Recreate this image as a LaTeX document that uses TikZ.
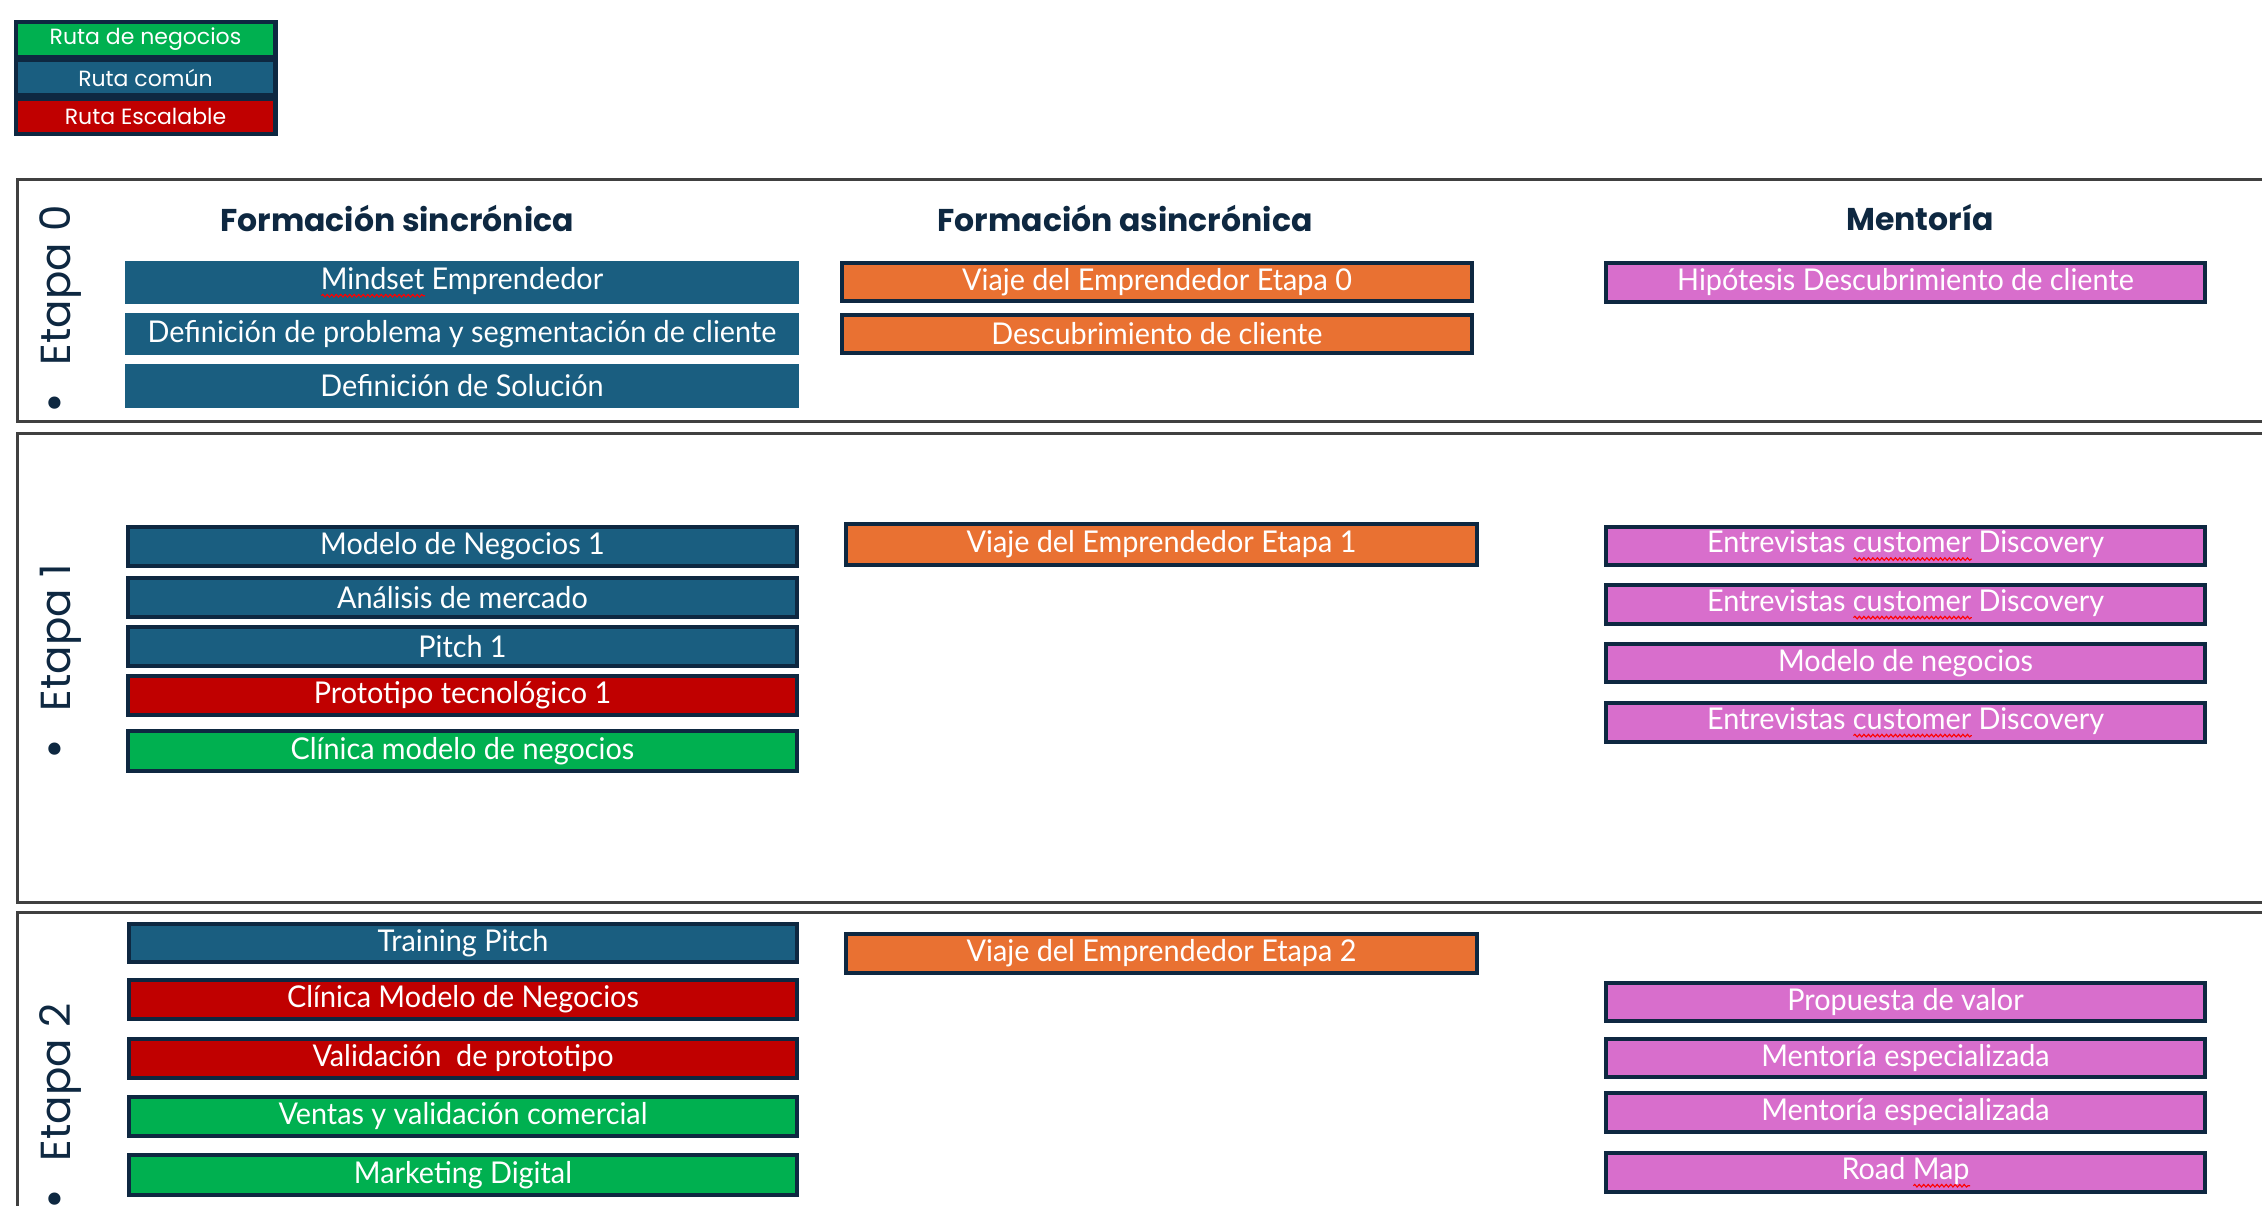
\documentclass[tikz,border=0pt]{standalone}
\usepackage{fontspec}
\setmainfont{Lato}
\newfontfamily\boxfont[FakeStretch=0.96]{Lato}
\newfontfamily\popfont{Poppins}
\newfontfamily\headfont{Poppins}
\newfontfamily\bulfont{DejaVu Sans}
\usetikzlibrary{decorations.pathmorphing}
\definecolor{navy}{HTML}{0E2841}
\definecolor{cblue}{HTML}{1A5E80}
\definecolor{corange}{HTML}{E97132}
\definecolor{cpink}{HTML}{D86ECC}
\definecolor{cred}{HTML}{C00000}
\definecolor{cgreen}{HTML}{00B050}
\definecolor{frameline}{HTML}{404040}
\newlength\sqw
\newcommand\squig[1]{\settowidth{\sqw}{#1}\rlap{\raisebox{-8pt}{\tikz\draw[red,line width=1.1pt,decorate,decoration={snake,amplitude=1.3pt,segment length=4.5pt}] (0pt,0pt) -- (\sqw,0pt);}}#1}
\tikzset{
  itembox/.style={draw=navy, line width=4pt, inner sep=0pt, outer sep=0pt, text=white,
    font=\boxfont\fontsize{30}{33}\selectfont},
  legbox/.style={inner sep=0pt, outer sep=0pt, text=white, minimum width=255pt, minimum height=31pt,
    font=\popfont\fontsize{22}{24}\selectfont},
  header/.style={text=navy, font=\headfont\bfseries\fontsize{31.5}{35}\selectfont},
  etapa/.style={rotate=90, anchor=base west, inner sep=0pt, text=navy, font=\popfont\fontsize{42}{46}\selectfont},
  stageframe/.style={draw=frameline, line width=3pt}
}
\newcommand\ibox[8][]{\node[itembox,fill=#7,minimum width={(#5-#3-4)*1pt},minimum height={(#6-#4-4)*1pt},#1] (#2) at ({(#3+#5)/2},{(#4+#6)/2}) {#8};}
\begin{document}
\begin{tikzpicture}[x=1pt,y=-1pt]
\fill[white] (0,0) rectangle (2262,1205);
\clip (0,0) rectangle (2262,1205);
% legend
\node[fill=navy, minimum width=264pt, minimum height=116pt, inner sep=0pt, outer sep=0pt] (legend) at (145.5,78) {};
\node[legbox, fill=cgreen] (lg) at (145.5,39.5) {Ruta de negocios};
\node[legbox, fill=cblue] (lb) at (145.5,77.5) {Ruta común};
\node[legbox, fill=cred] (lr) at (145.5,116.5) {Ruta Escalable};
% stage frames
\draw[stageframe] (17,179) rectangle (2320,421);
\draw[stageframe] (17,433) rectangle (2320,902);
\draw[stageframe] (17,912) rectangle (2320,1260);
% stage labels
\node[etapa] (e0) at (70,416) {{\bulfont •}\hspace{26pt}Etapa 0};
\node[etapa] (e1) at (70,762) {{\bulfont •}\hspace{26pt}Etapa 1};
\node[etapa] (e2) at (70,1212) {{\bulfont •}\hspace{26pt}Etapa 2};
% headers
\node[header] (h1) at (397,218) {Formación sincrónica};
\node[header] (h2) at (1125,218) {Formación asincrónica};
\node[header] (h3) at (1920,218) {Mentoría};
% Etapa 0
\ibox[draw=cblue]{a1}{125}{261}{799}{304}{cblue}{\squig{Mindset} Emprendedor}
\ibox[draw=cblue]{a2}{125}{313}{799}{355}{cblue}{Definición de problema y segmentación de cliente}
\ibox[draw=cblue]{a3}{125}{364}{799}{408}{cblue}{Definición de Solución}
\ibox{b1}{840}{261}{1474}{303}{corange}{Viaje del Emprendedor Etapa 0}
\ibox{b2}{840}{313}{1474}{355}{corange}{Descubrimiento de cliente}
\ibox{c1}{1604}{261}{2207}{304}{cpink}{Hipótesis Descubrimiento de cliente}
% Etapa 1
\ibox{d1}{126}{525}{799}{568}{cblue}{Modelo de Negocios 1}
\ibox{d2}{126}{576}{799}{619}{cblue}{Análisis de mercado}
\ibox{d3}{126}{625}{799}{668}{cblue}{Pitch 1}
\ibox{d4}{126}{674}{799}{717}{cred}{Prototipo tecnológico 1}
\ibox{d5}{126}{729}{799}{773}{cgreen}{Clínica modelo de negocios}
\ibox{f1}{844}{522}{1479}{567}{corange}{Viaje del Emprendedor Etapa 1}
\ibox{g1}{1604}{525}{2207}{567}{cpink}{Entrevistas \squig{customer} Discovery}
\ibox{g2}{1604}{583}{2207}{626}{cpink}{Entrevistas \squig{customer} Discovery}
\ibox{g3}{1604}{642}{2207}{684}{cpink}{Modelo de negocios}
\ibox{g4}{1604}{701}{2207}{744}{cpink}{Entrevistas \squig{customer} Discovery}
% Etapa 2
\ibox{k1}{127}{922}{799}{964}{cblue}{Training Pitch}
\ibox{k2}{127}{978}{799}{1021}{cred}{Clínica Modelo de Negocios}
\ibox{k3}{127}{1037}{799}{1080}{cred}{Validación\ \ de prototipo}
\ibox{k4}{127}{1095}{799}{1138}{cgreen}{Ventas y validación comercial}
\ibox{k5}{127}{1153}{799}{1197}{cgreen}{Marketing Digital}
\ibox{m1}{844}{932}{1479}{975}{corange}{Viaje del Emprendedor Etapa 2}
\ibox{n1}{1604}{981}{2207}{1023}{cpink}{Propuesta de valor}
\ibox{n2}{1604}{1037}{2207}{1079}{cpink}{Mentoría especializada}
\ibox{n3}{1604}{1091}{2207}{1134}{cpink}{Mentoría especializada}
\ibox{n4}{1604}{1151}{2207}{1194}{cpink}{Road \squig{Map}}
\end{tikzpicture}
\end{document}
